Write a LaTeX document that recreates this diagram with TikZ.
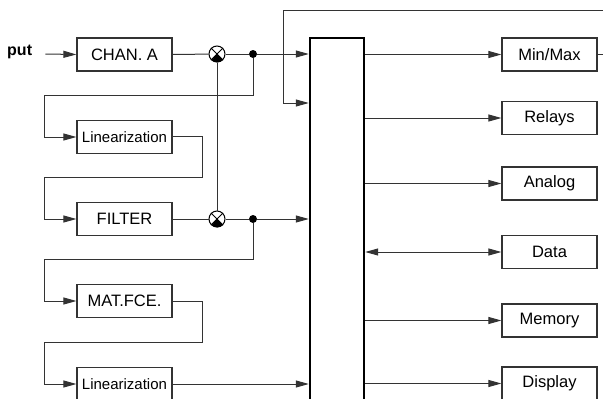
\documentclass[tikz,border=0pt]{standalone}
\usepackage{fontspec}
\setmainfont{Liberation Sans}
\usetikzlibrary{arrows.meta}
\begin{document}
\begin{tikzpicture}[x=1pt,y=-1pt,
  ln/.style={draw=black!80,line width=1pt},
  arr/.style={ln,-{Triangle[length=13pt,width=7pt]}},
  darr/.style={ln,{Triangle[length=13pt,width=7pt]}-{Triangle[length=13pt,width=7pt]}},
  blk/.style={draw=black!80,line width=1.2pt,minimum width=95pt,minimum height=33pt,inner sep=0pt,font=\fontsize{16.5}{18}\selectfont},
  linb/.style={blk,font=\fontsize{15}{17}\selectfont},
  dot/.style={circle,fill=black,inner sep=0pt,minimum size=8pt},
  mult/.style={circle,draw=black,line width=1pt,inner sep=0pt,minimum size=16pt}
]
\useasboundingbox (0,0) rectangle (603,399);
\clip (0,0) rectangle (603,399);
% left column
\node[font=\bfseries\fontsize{16}{18}\selectfont,anchor=west,inner sep=0pt] (put) at (7,52) {put};
\node[blk] (chanA) at (124.5,54.5) {CHAN. A};
\node[linb] (lin1) at (124.5,137) {Linearization};
\node[blk] (filter) at (124.5,219) {FILTER};
\node[blk] (matfce) at (124.5,301) {MAT.FCE.};
\node[linb] (lin2) at (124.5,384) {Linearization};
% bus
\node[draw=black,line width=2.4pt,minimum width=54pt,minimum height=400pt,inner sep=0pt] (bus) at (337,238) {};
% multipliers and dots
\node[mult] (m1) at (217,54) {};
\node[mult] (m2) at (217,219) {};
\foreach \m in {m1,m2}{
  \fill (\m.center) -- (\m.-45) arc (-45:-135:8pt) -- cycle;
  \draw[line width=0.8pt] (\m.45) -- (\m.-135) (\m.135) -- (\m.-45);
}
\node[dot] (d1) at (253,54) {};
\node[dot] (d2) at (253,219) {};
% right column
\node[blk] (minmax) at (549.5,54.5) {Min/Max};
\node[blk] (relays) at (549.5,118) {Relays};
\node[blk] (analog) at (549.5,183.5) {Analog};
\node[blk] (data) at (549.5,252) {Data};
\node[blk] (memory) at (549.5,320.5) {Memory};
\node[blk] (display) at (549.5,383.5) {Display};
% helper coordinates
\coordinate (f1) at (44,95);
\coordinate (r1) at (202,136);
\coordinate (f2) at (44,177);
\coordinate (f3) at (44,259);
\coordinate (r2) at (202,301);
\coordinate (f4) at (44,342);
\coordinate (tr) at (610,54.5);
\coordinate (tt) at (610,10);
\coordinate (tl) at (283,10);
\coordinate (tb) at (283,103);
% connectors
\draw[arr] (put.east) ++(13,2) coordinate (p0) -- (chanA.west);
\draw[ln] (chanA.east) -- (m1);
\draw[ln] (m1) -- (d1);
\draw[arr] (d1) -- (d1 -| bus.west);
\draw[ln] (m1) -- (m2);
\draw[arr] (d1) |- (f1) |- (lin1.west);
\draw[arr] (lin1.east |- r1) -| (r1) |- (f2) |- (filter.west);
\draw[ln] (filter.east) -- (m2);
\draw[ln] (m2) -- (d2);
\draw[arr] (d2) -- (d2 -| bus.west);
\draw[arr] (d2) |- (f3) |- (matfce.west);
\draw[arr] (matfce.east) -| (r2) |- (f4) |- (lin2.west);
\draw[arr] (lin2.east) -- (lin2.east -| bus.west);
\draw[arr] (minmax.east) -- (tr) -- (tt) -- (tl) -- (tb) -- (tb -| bus.west);
\draw[arr] (minmax.west -| bus.east) -- (minmax.west);
\draw[arr] (relays.west -| bus.east) -- (relays.west);
\draw[arr] (analog.west -| bus.east) -- (analog.west);
\draw[darr] (data.west -| bus.east) -- (data.west);
\draw[arr] (memory.west -| bus.east) -- (memory.west);
\draw[arr] (display.west -| bus.east) -- (display.west);
\end{tikzpicture}
\end{document}
